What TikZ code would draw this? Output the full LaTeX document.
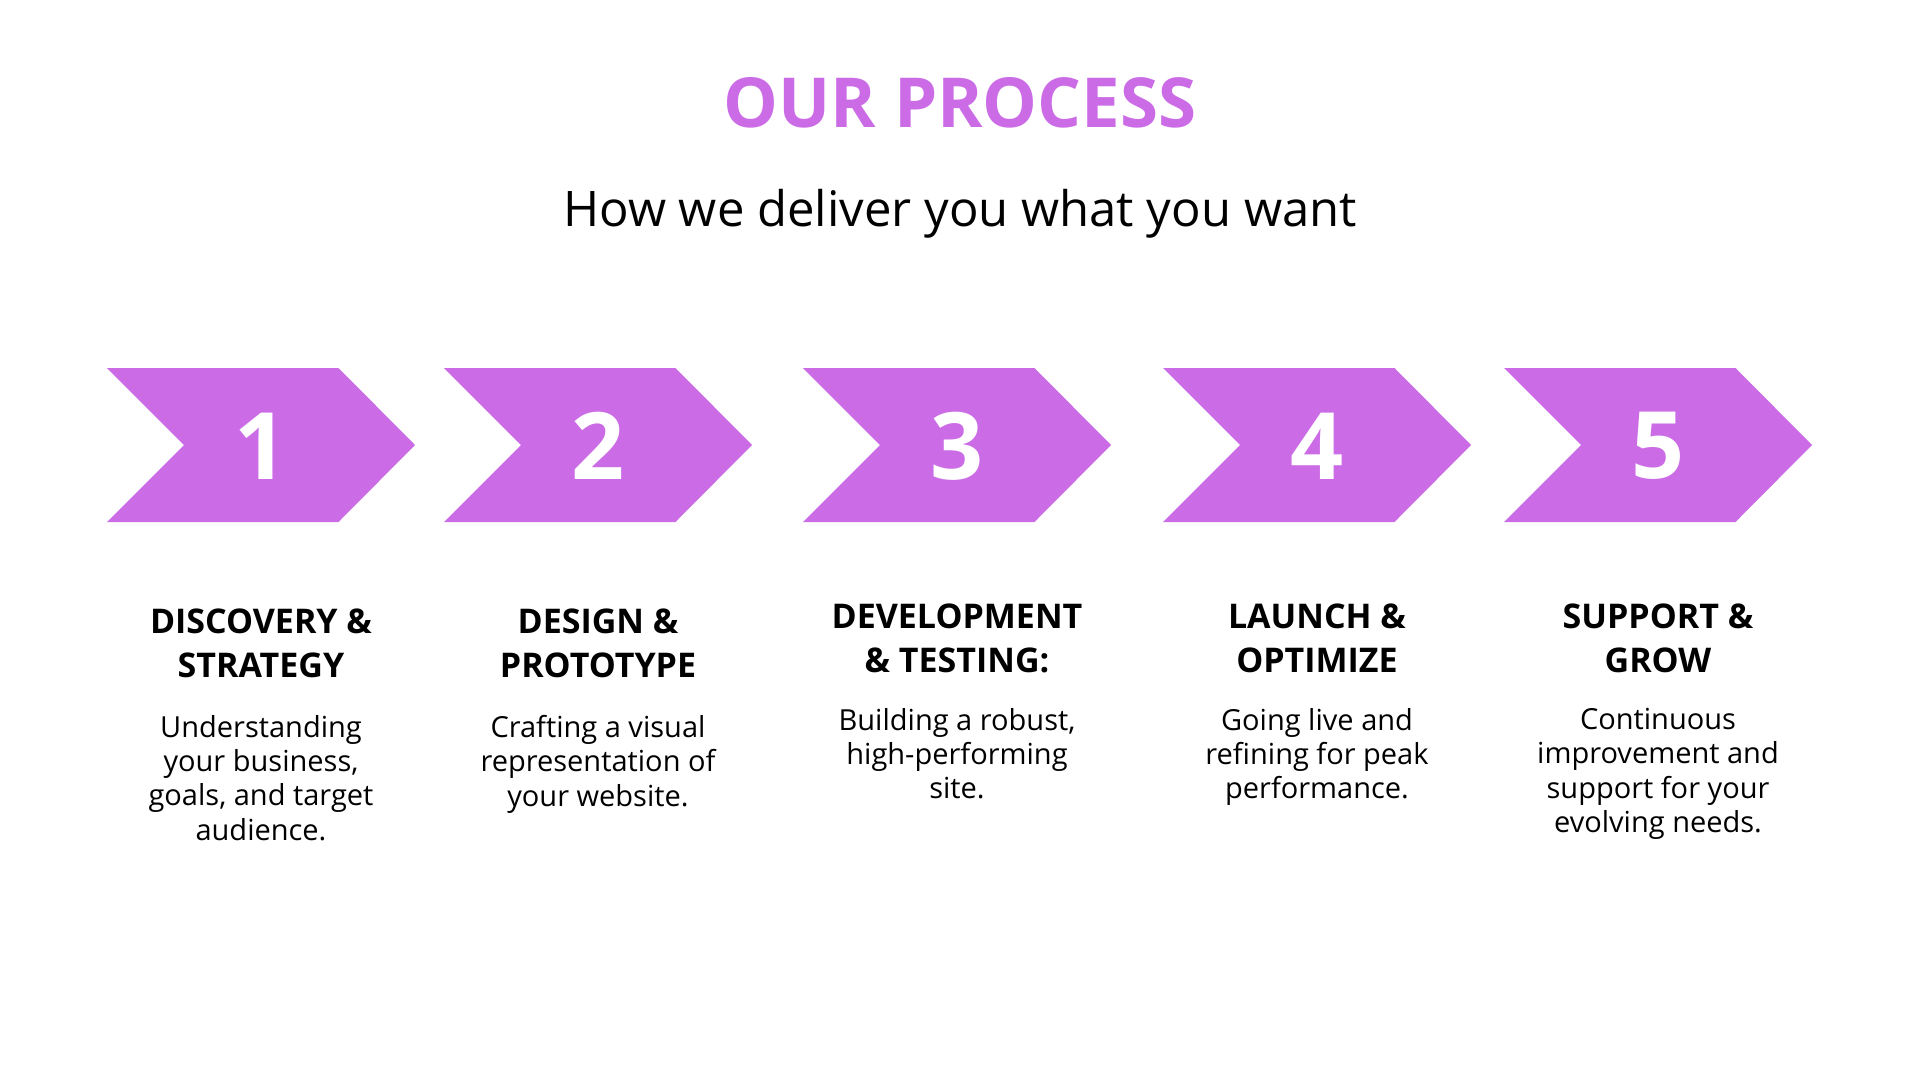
\documentclass[tikz,border=0pt]{standalone}
\usepackage{fontspec}
\setmainfont{Open Sans}
\definecolor{procpurple}{HTML}{CB6CE6}
\begin{document}
\begin{tikzpicture}[x=1pt,y=-1pt,
    chev/.style={fill=procpurple},
    num/.style={text=white,inner sep=0,font=\fontsize{93}{93}\selectfont\bfseries},
    head/.style={anchor=north,align=center,inner sep=0,font=\fontsize{34}{44}\selectfont\bfseries},
    desc/.style={anchor=north,align=center,inner sep=0,font=\fontsize{29}{34.3}\selectfont}]
    \useasboundingbox (0,0) rectangle (1920,1080);
    %title
    \node[anchor=base,text=procpurple,font=\fontsize{69}{69}\selectfont\bfseries] (title) at (960,127.7) {OUR PROCESS};
    \node[anchor=base,font=\fontsize{49}{49}\selectfont] (subtitle) at (960,226.7) {How we deliver you what you want};
    %draw chevrons
    \foreach \l/\k in {107/1,444/2,803/3,1163/4,1504/5}{
        \fill[chev] (\l,368) -- ++(231.5,0) -- ++(76.5,77) -- ++(-76.5,77) -- ++(-231.5,0) -- ++(77,-77) -- cycle;
        \node[num] (n\k) at (\l+154,446) {\k};
    }
    %step titles
    \node[head] (h1) at (261,609) {DISCOVERY \&\\STRATEGY};
    \node[head] (h2) at (598,609) {DESIGN \&\\PROTOTYPE};
    \node[head] (h3) at (957,604) {DEVELOPMENT\\\& TESTING:};
    \node[head] (h4) at (1317,604) {LAUNCH \&\\OPTIMIZE};
    \node[head] (h5) at (1658,604) {SUPPORT \&\\GROW};
    %step texts
    \node[desc] (d1) at (261,715) {Understanding\\your business,\\goals, and target\\audience.};
    \node[desc] (d2) at (598,715) {Crafting a visual\\representation of\\your website.};
    \node[desc] (d3) at (957,708) {Building a robust,\\high-performing\\site.};
    \node[desc] (d4) at (1317,708) {Going live and\\refining for peak\\performance.};
    \node[desc] (d5) at (1658,708) {Continuous\\improvement and\\support for your\\evolving needs.};
\end{tikzpicture}
\end{document}
